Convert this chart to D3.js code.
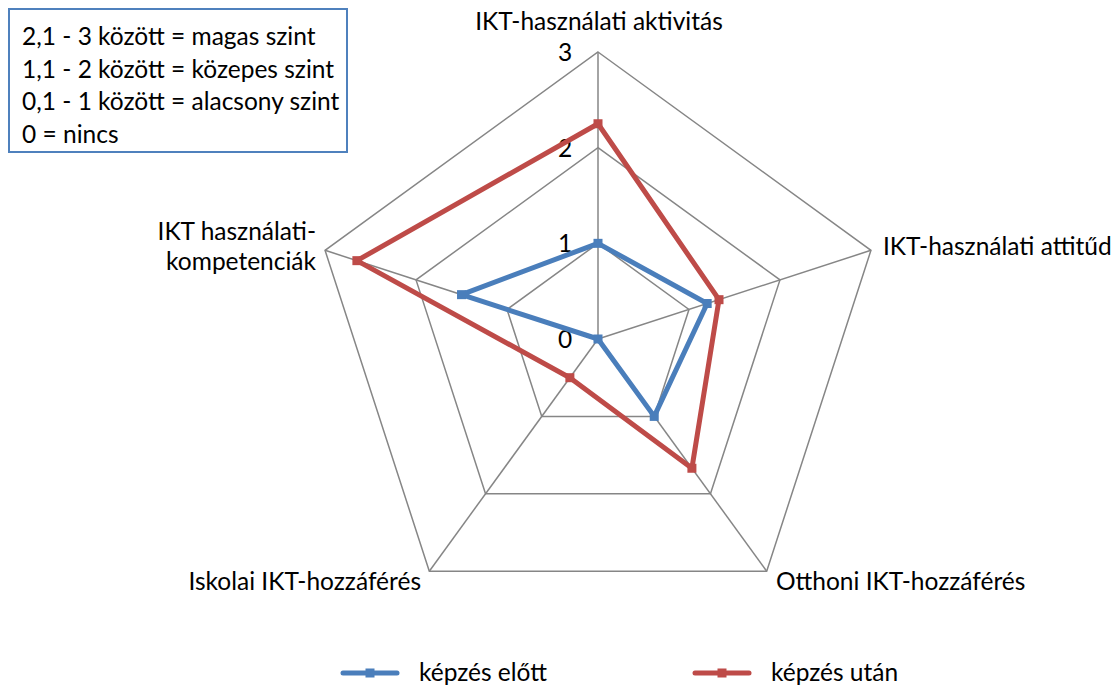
<!DOCTYPE html>
<html>
<head>
<meta charset="utf-8">
<script src="https://cdn.jsdelivr.net/npm/d3@7"></script>
<style>
  body { margin: 0; background: #fff; }
  svg text { font-family: Lato, "Open Sans", sans-serif; fill: #000; }
</style>
</head>
<body>
<svg id="chart" width="1120" height="685"></svg>
<script>
const axes = [`IKT-használati aktivitás`, `IKT-használati attitűd`, `Otthoni IKT-hozzáférés`, `Iskolai IKT-hozzáférés`, `IKT használati-\nkompetenciák`];
const before = [1, 1.2, 1, 0, 1.5];
const after = [2.25, 1.33, 1.67, 0.5, 2.65];
const ticks = [0, 1, 2, 3];
const seriesNames = [`képzés előtt`, `képzés után`];
const noteLines = [`2,1 - 3 között = magas szint`, `1,1 - 2 között = közepes szint`, `0,1 - 1 között = alacsony szint`, `0 = nincs`];

const width = 1120;
const height = 685;
const cx = 598;
const cy = 339;
const radius = 287;
const blue = `#4A7EBB`;
const red = `#BE4B48`;
const grid = `#868686`;
const fontSize = 24.5;

const svg = d3.select(`#chart`);

const rScale = d3.scaleLinear().domain([0, 3]).range([0, radius]);
const angle = (i) => -Math.PI / 2 + i * 2 * Math.PI / axes.length;
const point = (i, v) => [cx + rScale(v) * Math.cos(angle(i)), cy + rScale(v) * Math.sin(angle(i))];

// grid pentagons
ticks.filter(t => t > 0).forEach(t => {
    svg.append(`polygon`)
        .attr(`points`, axes.map((a, i) => point(i, t).join(`,`)).join(` `))
        .attr(`fill`, `none`)
        .attr(`stroke`, grid)
        .attr(`stroke-width`, 1.5);
});

// spokes
axes.forEach((a, i) => {
    const [x, y] = point(i, 3);
    svg.append(`line`)
        .attr(`x1`, cx).attr(`y1`, cy)
        .attr(`x2`, x).attr(`y2`, y)
        .attr(`stroke`, grid)
        .attr(`stroke-width`, 1.5);
});

// tick labels
svg.selectAll(`.tick`)
    .data(ticks)
    .enter()
    .append(`text`)
    .attr(`x`, cx - 33)
    .attr(`y`, d => cy - rScale(d) + 9)
    .attr(`text-anchor`, `middle`)
    .attr(`font-size`, fontSize)
    .text(d => d);

// axis labels
const labelPos = [
    { x: 599, y: 30, anchor: `middle` },
    { x: 883, y: 255, anchor: `start` },
    { x: 776, y: 590, anchor: `start` },
    { x: 421, y: 590, anchor: `end` },
    { x: 316, y: 240, anchor: `end` }
];
axes.forEach((a, i) => {
    const t = svg.append(`text`)
        .attr(`x`, labelPos[i].x)
        .attr(`y`, labelPos[i].y)
        .attr(`text-anchor`, labelPos[i].anchor)
        .attr(`font-size`, fontSize);
    a.split(`\n`).forEach((line, j) => {
        t.append(`tspan`)
            .attr(`x`, labelPos[i].x)
            .attr(`dy`, j === 0 ? 0 : 30)
            .text(line);
    });
});

// series
const line = d3.line();
[before, after].forEach((values, s) => {
    const color = s === 0 ? blue : red;
    const pts = values.map((v, i) => point(i, v));
    svg.append(`path`)
        .attr(`d`, line(pts) + `Z`)
        .attr(`fill`, `none`)
        .attr(`stroke`, color)
        .attr(`stroke-width`, 5)
        .attr(`stroke-linejoin`, `round`);
    svg.selectAll(`.m${s}`)
        .data(pts)
        .enter()
        .append(`rect`)
        .attr(`x`, d => d[0] - 4.5)
        .attr(`y`, d => d[1] - 4.5)
        .attr(`width`, 9)
        .attr(`height`, 9)
        .attr(`fill`, color);
});

// legend
const legendX = [343, 695];
seriesNames.forEach((name, s) => {
    const color = s === 0 ? blue : red;
    svg.append(`line`)
        .attr(`x1`, legendX[s]).attr(`x2`, legendX[s] + 54)
        .attr(`y1`, 673).attr(`y2`, 673)
        .attr(`stroke`, color)
        .attr(`stroke-width`, 5)
        .attr(`stroke-linecap`, `round`);
    svg.append(`rect`)
        .attr(`x`, legendX[s] + 27 - 4.5)
        .attr(`y`, 673 - 4.5)
        .attr(`width`, 9).attr(`height`, 9)
        .attr(`fill`, color);
    svg.append(`text`)
        .attr(`x`, legendX[s] + 76)
        .attr(`y`, 681)
        .attr(`font-size`, fontSize)
        .text(name);
});

// note box
svg.append(`rect`)
    .attr(`x`, 9).attr(`y`, 9)
    .attr(`width`, 338).attr(`height`, 143)
    .attr(`fill`, `#fff`)
    .attr(`stroke`, `#4F81BD`)
    .attr(`stroke-width`, 2);
svg.selectAll(`.note`)
    .data(noteLines)
    .enter()
    .append(`text`)
    .attr(`x`, 22)
    .attr(`y`, (d, i) => 45 + i * 32.5)
    .attr(`font-size`, fontSize)
    .text(d => d);
</script>
</body>
</html>
